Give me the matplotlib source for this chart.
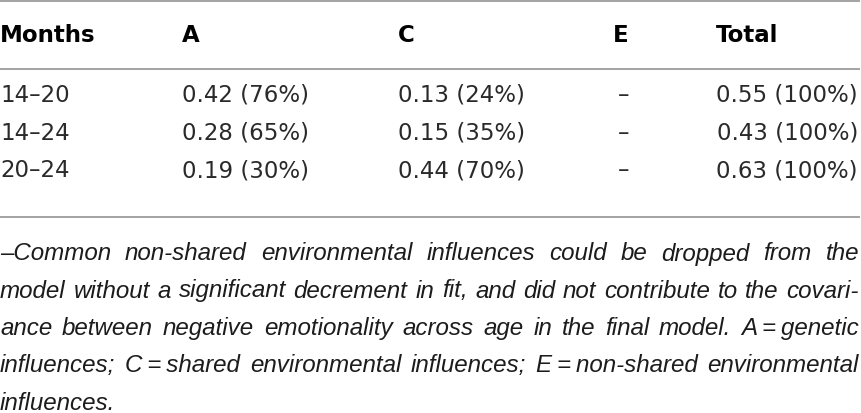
import matplotlib
matplotlib.use("Agg")
import matplotlib.pyplot as plt

# ---------- Table content ----------
headers = ["Months", "A", "C", "E", "Total"]
months = ["14–20", "14–24", "20–24"]
a_vals = ["0.42 (76%)", "0.28 (65%)", "0.19 (30%)"]
c_vals = ["0.13 (24%)", "0.15 (35%)", "0.44 (70%)"]
e_vals = ["–", "–", "–"]
totals = ["0.55 (100%)", "0.43 (100%)", "0.63 (100%)"]

# thin spaces around "=" keep those pieces together when justifying
footnote_lines = [
    "–Common non-shared environmental influences could be dropped from the",
    "model without a significant decrement in fit, and did not contribute to the covari-",
    "ance between negative emotionality across age in the final model. A\u2009=\u2009genetic",
    "influences; C\u2009=\u2009shared environmental influences; E\u2009=\u2009non-shared environmental",
    "influences.",
]

# ---------- Layout (pixels) ----------
W, H = 862, 413
col_x = [0, 182, 398, 624, 858]
head_x = [0, 182, 398, 621, 716]
head_y = 42
row_y = [102, 139.5, 177]
rule_y = [1, 69, 217]
foot_y = [260.5, 297.5, 335, 372, 409.5]
rule_color = "#9c9c9c"
text_color = "#2a2a2a"
table_fs = 16.5
foot_fs = 17.4
foot_family = ["Liberation Sans", "DejaVu Sans"]

fig = plt.figure(figsize=(W / 100, H / 100), dpi=100)
ax = fig.add_axes([0, 0, 1, 1])
ax.set_xlim(0, W)
ax.set_ylim(H, 0)
ax.axis("off")

for y in rule_y:
    ax.plot([0, 860], [y, y], color=rule_color, lw=1.3, solid_capstyle="butt")

# header
for i, h in enumerate(headers):
    ha = "center" if i == 3 else "left"
    ax.text(head_x[i], head_y, h, fontsize=table_fs, fontweight="bold",
            family="DejaVu Sans", ha=ha, va="baseline", color="black")

# body
cols = [months, a_vals, c_vals, e_vals, totals]
aligns = ["left", "left", "left", "center", "right"]
for ci, col in enumerate(cols):
    for ri, val in enumerate(col):
        ax.text(col_x[ci], row_y[ri], val, fontsize=table_fs,
                family="DejaVu Sans", ha=aligns[ci], va="baseline",
                color=text_color)

# ---------- Footnote, justified word by word ----------
fig.canvas.draw()
renderer = fig.canvas.get_renderer()
right = 859
for li, line in enumerate(footnote_lines):
    words = line.split(" ")
    arts = []
    widths = []
    for w in words:
        t = ax.text(0, foot_y[li], w, fontsize=foot_fs, style="italic",
                    family=foot_family, ha="left", va="baseline",
                    color="#1c1c1c")
        widths.append(t.get_window_extent(renderer).width)
        arts.append(t)
    last = li == len(footnote_lines) - 1
    if last or len(words) == 1:
        gap = 6.7
    else:
        gap = (right - sum(widths)) / (len(words) - 1)
    x = 0
    for t, wd in zip(arts, widths):
        t.set_x(x)
        x += wd + gap

fig.savefig("out.png", dpi=100)
